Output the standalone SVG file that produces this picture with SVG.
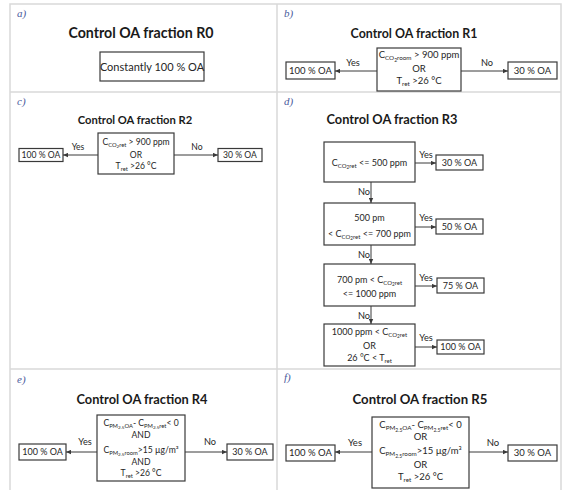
<svg xmlns="http://www.w3.org/2000/svg" width="566" height="490" viewBox="0 0 566 490">
  <defs>
    <style>
      .grid { stroke: #d9d9d9; stroke-width: 1.5; fill: none; }
      .box { fill: #ffffff; stroke: #3a3a3a; stroke-width: 1.2; }
      .arr { stroke: #3a3a3a; stroke-width: 1; fill: none; marker-end: url(#ah); }
      .tt { font-family: Lato, "Open Sans", sans-serif; font-weight: 700; fill: #1a1a1a; text-anchor: middle; }
      .tx { font-family: Lato, "Open Sans", sans-serif; fill: #262626; text-anchor: middle; }
      .lb { font-family: "Liberation Serif", serif; font-style: italic; fill: #4a5a9c; font-size: 11px; }
    </style>
    <marker id="ah" viewBox="0 0 6 6" refX="6" refY="3" markerWidth="5" markerHeight="5" markerUnits="userSpaceOnUse" orient="auto">
      <path d="M0,0.4 L6,3 L0,5.6 Z" fill="#3a3a3a"/>
    </marker>
  </defs>

  <rect width="566" height="490" fill="#ffffff"/>

  <!-- table frame -->
  <g id="frame">
    <rect class="grid" x="10" y="4" width="551" height="492"/>
    <line class="grid" x1="277" y1="4" x2="277" y2="490"/>
    <line class="grid" x1="10" y1="92" x2="561" y2="92"/>
    <line class="grid" x1="10" y1="369" x2="561" y2="369"/>
  </g>

  <!-- panel labels and titles -->
  <g id="labels">
    <text class="lb" x="17" y="17">a)</text>
    <text class="lb" x="284" y="17">b)</text>
    <text class="lb" x="17" y="105">c)</text>
    <text class="lb" x="284" y="105">d)</text>
    <text class="lb" x="17" y="383">e)</text>
    <text class="lb" x="284" y="381">f)</text>
    <text class="tt" x="141" y="38" font-size="14.2">Control OA fraction R0</text>
    <text class="tt" x="414" y="38" font-size="12.4">Control OA fraction R1</text>
    <text class="tt" x="135" y="124" font-size="11.2">Control OA fraction R2</text>
    <text class="tt" x="392" y="124" font-size="12.8">Control OA fraction R3</text>
    <text class="tt" x="142" y="404" font-size="12.8">Control OA fraction R4</text>
    <text class="tt" x="420" y="404" font-size="13.2">Control OA fraction R5</text>
  </g>

  <!-- connectors -->
  <g id="connectors">
    <line class="arr" x1="377" y1="71" x2="335" y2="71"/>
    <line class="arr" x1="461" y1="71" x2="508" y2="71"/>
    <line class="arr" x1="98" y1="155" x2="63" y2="155"/>
    <line class="arr" x1="174" y1="155" x2="218" y2="155"/>
    <line class="arr" x1="415" y1="163" x2="436" y2="163"/>
    <line class="arr" x1="371" y1="182" x2="371" y2="203"/>
    <line class="arr" x1="415" y1="227" x2="436" y2="227"/>
    <line class="arr" x1="371" y1="245" x2="371" y2="264"/>
    <line class="arr" x1="415" y1="286" x2="437" y2="286"/>
    <line class="arr" x1="371" y1="306" x2="371" y2="324"/>
    <line class="arr" x1="415" y1="347" x2="437" y2="347"/>
    <line class="arr" x1="97" y1="452" x2="66" y2="452"/>
    <line class="arr" x1="185" y1="452" x2="227" y2="452"/>
    <line class="arr" x1="372" y1="452" x2="335" y2="452"/>
    <line class="arr" x1="469" y1="452" x2="508" y2="452"/>
    <g class="tx" font-size="9.2">
      <text x="353" y="66">Yes</text>
      <text x="487" y="66">No</text>
      <text x="78" y="150" font-size="8.6">Yes</text>
      <text x="197" y="150" font-size="8.6">No</text>
      <text x="426" y="158">Yes</text>
      <text x="364" y="195">No</text>
      <text x="426" y="221">Yes</text>
      <text x="364" y="258">No</text>
      <text x="426" y="281">Yes</text>
      <text x="364" y="319">No</text>
      <text x="426" y="341">Yes</text>
      <text x="85" y="445">Yes</text>
      <text x="210" y="445">No</text>
      <text x="355" y="446" font-size="9.5">Yes</text>
      <text x="493" y="446" font-size="9.5">No</text>
    </g>
  </g>

  <!-- a) constant rule -->
  <g id="r0-box">
    <rect class="box" x="100" y="52" width="104" height="29"/>
    <text class="tx" x="152" y="70.5" font-size="11">Constantly 100 % OA</text>
  </g>

  <!-- b) rule R1 -->
  <g id="r1-cond">
    <rect class="box" x="377" y="48" width="84" height="43"/>
    <text class="tx" x="419" y="58" font-size="9.5">C<tspan font-size="6.3" dy="2.2">CO</tspan><tspan font-size="5" dy="1.4">2</tspan><tspan font-size="6.3" dy="-1.4">room</tspan><tspan dy="-2.2"> &gt; 900 ppm</tspan></text>
    <text class="tx" x="419" y="72" font-size="9.5">OR</text>
    <text class="tx" x="419" y="84" font-size="9.5">T<tspan font-size="6.3" dy="2.2">ret</tspan><tspan dy="-2.2"> &gt;26 °C</tspan></text>
  </g>
  <g id="r1-yes">
    <rect class="box" x="286" y="62" width="49" height="17"/>
    <text class="tx" x="310.5" y="74" font-size="9.5">100 % OA</text>
  </g>
  <g id="r1-no">
    <rect class="box" x="508" y="62" width="49" height="17"/>
    <text class="tx" x="532.5" y="74" font-size="9.5">30 % OA</text>
  </g>

  <!-- c) rule R2 -->
  <g id="r2-cond">
    <rect class="box" x="98" y="133" width="76" height="41"/>
    <text class="tx" x="136" y="145" font-size="8.6">C<tspan font-size="5.8" dy="2">CO</tspan><tspan font-size="4.6" dy="1.3">2</tspan><tspan font-size="5.8" dy="-1.3">ret</tspan><tspan dy="-2"> &gt; 900 ppm</tspan></text>
    <text class="tx" x="136" y="158" font-size="8.6">OR</text>
    <text class="tx" x="136" y="169" font-size="8.6">T<tspan font-size="5.8" dy="2">ret</tspan><tspan dy="-2"> &gt;26 °C</tspan></text>
  </g>
  <g id="r2-yes">
    <rect class="box" x="19" y="148.5" width="44" height="13"/>
    <text class="tx" x="41" y="158" font-size="8.6">100 % OA</text>
  </g>
  <g id="r2-no">
    <rect class="box" x="218" y="148.5" width="44" height="13"/>
    <text class="tx" x="240" y="158" font-size="8.6">30 % OA</text>
  </g>

  <!-- d) rule R3 -->
  <g id="r3-c1">
    <rect class="box" x="324" y="142" width="91" height="40"/>
    <text class="tx" x="369.5" y="165.5" font-size="9">C<tspan font-size="6" dy="2">CO</tspan><tspan font-size="4.7" dy="1.3">2</tspan><tspan font-size="6" dy="-1.3">ret</tspan><tspan dy="-2"> &lt;= 500 ppm</tspan></text>
  </g>
  <g id="r3-o1">
    <rect class="box" x="436" y="155" width="47" height="15"/>
    <text class="tx" x="459.5" y="165.5" font-size="9">30 % OA</text>
  </g>
  <g id="r3-c2">
    <rect class="box" x="324" y="203" width="91" height="42"/>
    <text class="tx" x="369.5" y="221" font-size="9">500 pm</text>
    <text class="tx" x="369.5" y="237" font-size="9">&lt; C<tspan font-size="6" dy="2">CO</tspan><tspan font-size="4.7" dy="1.3">2</tspan><tspan font-size="6" dy="-1.3">ret</tspan><tspan dy="-2"> &lt;= 700 ppm</tspan></text>
  </g>
  <g id="r3-o2">
    <rect class="box" x="436" y="219" width="47" height="15"/>
    <text class="tx" x="459.5" y="229.5" font-size="9">50 % OA</text>
  </g>
  <g id="r3-c3">
    <rect class="box" x="324" y="264" width="91" height="42"/>
    <text class="tx" x="369.5" y="283" font-size="9">700 pm &lt; C<tspan font-size="6" dy="2">CO</tspan><tspan font-size="4.7" dy="1.3">2</tspan><tspan font-size="6" dy="-1.3">ret</tspan></text>
    <text class="tx" x="369.5" y="297" font-size="9">&lt;= 1000 ppm</text>
  </g>
  <g id="r3-o3">
    <rect class="box" x="437" y="278" width="47" height="15"/>
    <text class="tx" x="460.5" y="288.5" font-size="9">75 % OA</text>
  </g>
  <g id="r3-c4">
    <rect class="box" x="324" y="324" width="91" height="42"/>
    <text class="tx" x="369.5" y="335" font-size="9">1000 ppm &lt; C<tspan font-size="6" dy="2">CO</tspan><tspan font-size="4.7" dy="1.3">2</tspan><tspan font-size="6" dy="-1.3">ret</tspan></text>
    <text class="tx" x="369.5" y="349" font-size="9">OR</text>
    <text class="tx" x="369.5" y="361" font-size="9">26 °C &lt; T<tspan font-size="6" dy="2">ret</tspan></text>
  </g>
  <g id="r3-o4">
    <rect class="box" x="437" y="340" width="47" height="14"/>
    <text class="tx" x="460.5" y="350" font-size="9">100 % OA</text>
  </g>

  <!-- e) rule R4 -->
  <g id="r4-cond">
    <rect class="box" x="97" y="415" width="88" height="66"/>
    <text class="tx" x="141" y="426" font-size="8.6">C<tspan font-size="5.8" dy="2">PM</tspan><tspan font-size="4.6" dy="1.3">2.5</tspan><tspan font-size="5.8" dy="-1.3">OA</tspan><tspan dy="-2">- C</tspan><tspan font-size="5.8" dy="2">PM</tspan><tspan font-size="4.6" dy="1.3">2.5</tspan><tspan font-size="5.8" dy="-1.3">ret</tspan><tspan dy="-2">&lt; 0</tspan></text>
    <text class="tx" x="141" y="438" font-size="8.6">AND</text>
    <text class="tx" x="141" y="453" font-size="8.6">C<tspan font-size="5.8" dy="2">PM</tspan><tspan font-size="4.6" dy="1.3">2.5</tspan><tspan font-size="5.8" dy="-1.3">room</tspan><tspan dy="-2">&gt;15 µg/m³</tspan></text>
    <text class="tx" x="141" y="464.5" font-size="8.6">AND</text>
    <text class="tx" x="141" y="475.5" font-size="8.6">T<tspan font-size="5.8" dy="2">ret</tspan><tspan dy="-2"> &gt;26 °C</tspan></text>
  </g>
  <g id="r4-yes">
    <rect class="box" x="19" y="444" width="47" height="16"/>
    <text class="tx" x="42.5" y="455" font-size="9">100 % OA</text>
  </g>
  <g id="r4-no">
    <rect class="box" x="227" y="444" width="46" height="16"/>
    <text class="tx" x="250" y="455" font-size="9">30 % OA</text>
  </g>

  <!-- f) rule R5 -->
  <g id="r5-cond">
    <rect class="box" x="372" y="417" width="97" height="71"/>
    <text class="tx" x="420.5" y="428" font-size="9.5">C<tspan font-size="6.3" dy="2.2">PM</tspan><tspan font-size="5" dy="1.4">2.5</tspan><tspan font-size="6.3" dy="-1.4">OA</tspan><tspan dy="-2.2">- C</tspan><tspan font-size="6.3" dy="2.2">PM</tspan><tspan font-size="5" dy="1.4">2.5</tspan><tspan font-size="6.3" dy="-1.4">ret</tspan><tspan dy="-2.2">&lt; 0</tspan></text>
    <text class="tx" x="420.5" y="440" font-size="9.5">OR</text>
    <text class="tx" x="420.5" y="454" font-size="9.5">C<tspan font-size="6.3" dy="2.2">PM</tspan><tspan font-size="5" dy="1.4">2.5</tspan><tspan font-size="6.3" dy="-1.4">room</tspan><tspan dy="-2.2">&gt;15 µg/m³</tspan></text>
    <text class="tx" x="420.5" y="468" font-size="9.5">OR</text>
    <text class="tx" x="420.5" y="480" font-size="9.5">T<tspan font-size="6.3" dy="2.2">ret</tspan><tspan dy="-2.2"> &gt;26 °C</tspan></text>
  </g>
  <g id="r5-yes">
    <rect class="box" x="286" y="445" width="49" height="16"/>
    <text class="tx" x="310.5" y="456" font-size="9.5">100 % OA</text>
  </g>
  <g id="r5-no">
    <rect class="box" x="508" y="445" width="49" height="16"/>
    <text class="tx" x="532.5" y="456" font-size="9.5">30 % OA</text>
  </g>
</svg>
